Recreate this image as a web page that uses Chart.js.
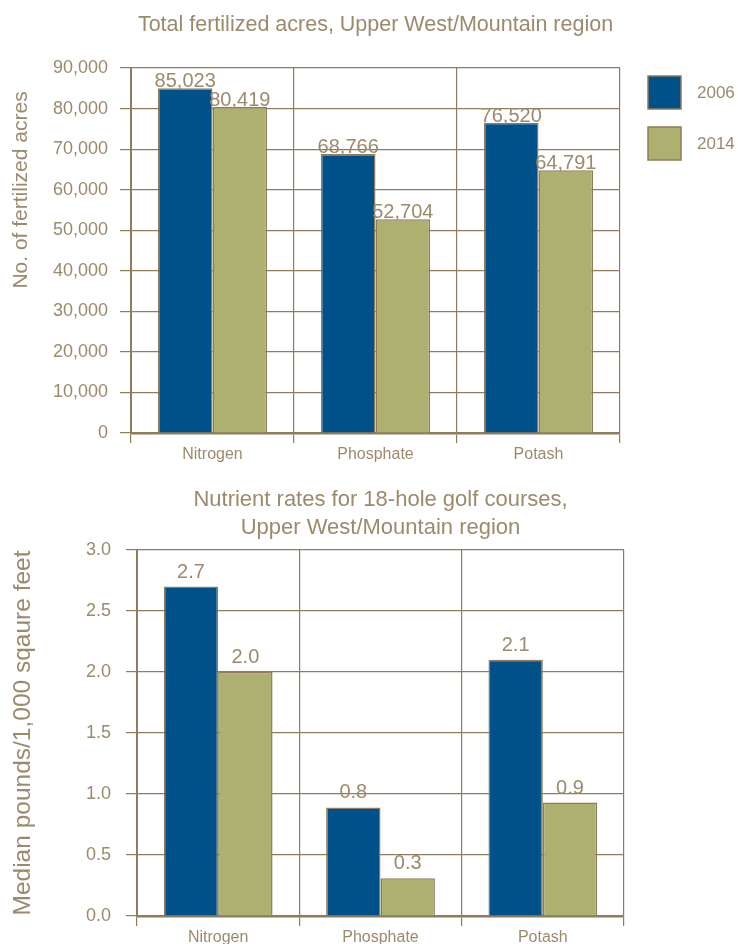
<!DOCTYPE html>
<html>
<head>
<meta charset="utf-8">
<script src="https://cdn.jsdelivr.net/npm/chart.js@4.4.1/dist/chart.umd.min.js"></script>
<style>
  body { margin: 0; background: #fff; overflow: hidden; }
  canvas { position: absolute; left: 0; }
  #acresChart { top: 0; }
  #ratesChart { top: 470px; }
</style>
</head>
<body>
<canvas id="acresChart" width="738" height="470"></canvas>
<canvas id="ratesChart" width="738" height="474"></canvas>
<script>
const nutrients = ["Nitrogen", "Phosphate", "Potash"];
const years = ["2006", "2014"];

// total fertilized acres
const acres2006 = [85023, 68766, 76520];
const acres2014 = [80419, 52704, 64791];
const acresTicks = [0, 10000, 20000, 30000, 40000, 50000, 60000, 70000, 80000, 90000];

// median lb / 1,000 sq ft (bar heights as drawn, and the numbers printed on them)
const rates2006 = [2.7, 0.89, 2.1];
const rates2014 = [2.0, 0.31, 0.93];
const rateText2006 = ["2.7", "0.8", "2.1"];
const rateText2014 = ["2.0", "0.3", "0.9"];
const rateTicks = [0, 0.5, 1.0, 1.5, 2.0, 2.5, 3.0];

const FONT = "'Liberation Sans Narrow', 'Liberation Sans', Arial, sans-serif";
const TEXT = "#9c8a6c";
const LINE = "#8e7c5b";
const BLUE = "#00508a";
const OLIVE = "#adb06e";

Chart.defaults.font.family = FONT;
Chart.defaults.color = TEXT;

// value text above each bar
function valueLabels(texts, gap) {
  return {
    id: "valueLabels",
    afterDatasetsDraw(chart) {
      const ctx = chart.ctx;
      ctx.save();
      ctx.font = "20px " + FONT;
      ctx.fillStyle = TEXT;
      ctx.textAlign = "center";
      ctx.textBaseline = "alphabetic";
      chart.data.datasets.forEach((ds, i) => {
        chart.getDatasetMeta(i).data.forEach((bar, j) => {
          ctx.fillText(texts[i][j], bar.x, bar.y - gap);
        });
      });
      ctx.restore();
    }
  };
}

// legend with large square swatches to the right of the plot
const sideLegend = {
  id: "sideLegend",
  afterDraw(chart) {
    const ctx = chart.ctx;
    ctx.save();
    ctx.font = "17px " + FONT;
    ctx.textBaseline = "middle";
    ctx.textAlign = "left";
    chart.data.datasets.forEach((ds, i) => {
      const x = 648, y = 76 + i * 51;
      ctx.fillStyle = ds.backgroundColor;
      ctx.fillRect(x, y, 33, 33);
      ctx.strokeStyle = LINE;
      ctx.lineWidth = 1.5;
      ctx.strokeRect(x, y, 33, 33);
      ctx.fillStyle = TEXT;
      ctx.fillText(ds.label, 697, y + 17);
    });
    ctx.restore();
  }
};

function barSet(label, data, color) {
  return {
    label,
    data,
    backgroundColor: color,
    borderColor: LINE,
    borderWidth: 1.5,
    categoryPercentage: 0.67,
    barPercentage: 1.0
  };
}

function axes(ticks, fmt, yTitle, titleSize, titleAlign, labelPad, leftWidth, bottomHeight) {
  return {
    x: {
      grid: { color: LINE, lineWidth: 1.2, tickLength: 10, offset: true },
      border: { color: LINE, width: 2.5 },
      ticks: { font: { size: 16 }, color: TEXT, padding: 2 },
      afterFit: s => { s.height = bottomHeight; }
    },
    y: {
      min: ticks[0],
      max: ticks[ticks.length - 1],
      afterBuildTicks: s => { s.ticks = ticks.map(v => ({ value: v })); },
      grid: { color: LINE, lineWidth: 1.2, tickLength: 11 },
      border: { color: LINE, width: 2 },
      ticks: { font: { size: 18 }, color: TEXT, padding: labelPad, callback: fmt },
      title: { display: true, text: yTitle, align: titleAlign, font: { size: titleSize }, color: TEXT, padding: { top: 9, bottom: 0 } },
      afterFit: s => { s.width = leftWidth; }
    }
  };
}

new Chart(document.getElementById("acresChart"), {
  type: "bar",
  data: {
    labels: nutrients,
    datasets: [barSet(years[0], acres2006, BLUE), barSet(years[1], acres2014, OLIVE)]
  },
  options: {
    responsive: false,
    animation: false,
    layout: { padding: { left: 0, right: 118, top: 0, bottom: 0 } },
    plugins: {
      legend: { display: false },
      tooltip: { enabled: false },
      title: {
        display: true,
        fullSize: false,
        text: "Total fertilized acres, Upper West/Mountain region",
        font: { size: 21.5, weight: "normal", lineHeight: 1.2 },
        color: TEXT,
        padding: { top: 12, bottom: 30.2 }
      }
    },
    scales: axes(acresTicks, v => Number(v).toLocaleString("en-US"), "No. of fertilized acres    ", 21, "end", 12, 131, 37)
  },
  plugins: [valueLabels([acres2006.map(v => v.toLocaleString("en-US")), acres2014.map(v => v.toLocaleString("en-US"))], 1), sideLegend]
});

new Chart(document.getElementById("ratesChart"), {
  type: "bar",
  data: {
    labels: nutrients,
    datasets: [barSet(years[0], rates2006, BLUE), barSet(years[1], rates2014, OLIVE)]
  },
  options: {
    responsive: false,
    animation: false,
    layout: { padding: { left: 0, right: 114, top: 0, bottom: 0 } },
    plugins: {
      legend: { display: false },
      tooltip: { enabled: false },
      title: {
        display: true,
        fullSize: false,
        text: ["Nutrient rates for 18-hole golf courses,", "Upper West/Mountain region"],
        font: { size: 22, weight: "normal", lineHeight: 28 / 22 },
        color: TEXT,
        padding: { top: 16, bottom: 8 }
      }
    },
    scales: axes(rateTicks, v => Number(v).toFixed(1), "Median pounds/1,000 sqaure feet", 24.5, "center", 15, 137, 28)
  },
  plugins: [valueLabels([rateText2006, rateText2014], 9)]
});
</script>
</body>
</html>
